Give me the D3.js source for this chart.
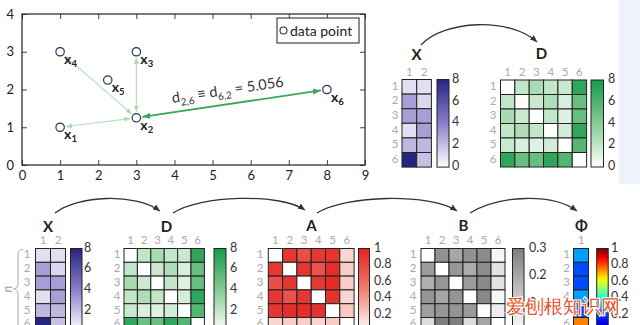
<!DOCTYPE html>
<html><head><meta charset="utf-8">
<script src="https://cdn.jsdelivr.net/npm/d3@7"></script>
<style>
body{margin:0;background:#fff}
svg{display:block}
text{font-family:Lato,"Open Sans",sans-serif}
</style></head><body>
<svg id="c" width="640" height="325"></svg>
<script>
// ---------- data ----------
const pointIds = ["1","2","3","4","5","6"];
const pointX = [1, 3, 3, 1, 2.25, 8];
const pointY = [1, 1.25, 3, 3, 2.25, 2];
const xTicks = [0,1,2,3,4,5,6,7,8,9];
const yTicks = [0,1,2,3,4];
const hubIndex = 1;             // x2
const linkTargets = [0, 2, 3, 5];
const highlightTarget = 5;      // x6
const distanceText = "5.056";
const legendLabel = "data point";

const rowIds = ["1","2","3","4","5","6"];
const colIdsX = ["1","2"];
const colIdsD = ["1","2","3","4","5","6"];
const colIdsPhi = ["1"];

const matD = [
  [0,    2.02, 2.83, 2.00, 1.77, 7.07],
  [2.02, 0,    1.75, 2.66, 1.25, 5.06],
  [2.83, 1.75, 0,    2.00, 1.06, 5.10],
  [2.00, 2.66, 2.00, 0,    1.46, 7.07],
  [1.77, 1.25, 1.06, 1.46, 0,    5.76],
  [7.07, 5.06, 5.10, 7.07, 5.76, 0]
];
const matA = [
  [0,    0.88, 0.76, 0.88, 0.90, 0.16],
  [0.88, 0,    0.90, 0.74, 0.93, 0.20],
  [0.76, 0.90, 0,    0.88, 0.94, 0.19],
  [0.88, 0.74, 0.88, 0,    0.91, 0.16],
  [0.90, 0.93, 0.94, 0.91, 0,    0.21],
  [0.16, 0.20, 0.19, 0.16, 0.21, 0]
];
const matB = [
  [0,     0.254, 0.204, 0.255, 0.268, 0.020],
  [0.230, 0,     0.243, 0.194, 0.264, 0.070],
  [0.185, 0.244, 0,     0.231, 0.271, 0.068],
  [0.248, 0.209, 0.248, 0,     0.275, 0.019],
  [0.225, 0.245, 0.251, 0.237, 0,     0.042],
  [0.081, 0.318, 0.310, 0.081, 0.209, 0]
];
const vecPhi = [0.28, 0.20, 0.20, 0.28, 0.20, 0.75];

const ticksX = [0,2,4,6,8];
const ticksD = [0,2,4,6,8];
const ticksA = [0,0.2,0.4,0.6,0.8,1];
const ticksB = [0,0.1,0.2,0.3];
const ticksPhi = [0,0.2,0.4,0.6,0.8,1];
const watermark = "爱刨根知识网";

// tables built from arrays
const matX = pointX.map((x,i)=>[x, pointY[i]]);
const matPhi = vecPhi.map(v=>[v]);

// ---------- helpers ----------
const W = 640, H = 325;
const svg = d3.select("#c");
const defs = svg.append("defs");
const FONT = 'Lato,"Open Sans",sans-serif';

svg.append("rect").attr("x",619).attr("y",0).attr("width",21).attr("height",184).attr("fill","#eef3fb");

function marker(id, color, len, wid){
  defs.append("marker").attr("id",id)
    .attr("viewBox",`0 0 ${len} ${wid}`).attr("refX",len).attr("refY",wid/2)
    .attr("markerWidth",len).attr("markerHeight",wid)
    .attr("markerUnits","userSpaceOnUse").attr("orient","auto-start-reverse")
    .append("path").attr("d",`M0,0L${len},${wid/2}L0,${wid}Z`).attr("fill",color);
}
marker("mLight","#a9dbb0",6,5);
marker("mDark","#3aa85c",8,6);
marker("mBlack","#333",7,6);

// ---------- scatter ----------
const sx = d3.scaleLinear().domain([0,9]).range([22,365]);
const sy = d3.scaleLinear().domain([0,4]).range([165,14]);
const plot = svg.append("g");
const fmtAxis = d3.format("d");

function axis(gen, tr, labels){
  const g = plot.append("g").attr("transform",tr).call(gen)
    .attr("font-family",FONT).attr("font-size",13);
  g.select(".domain").remove();
  g.selectAll("line").attr("stroke","#444");
  g.selectAll("text").attr("fill","#222");
  if(!labels) g.selectAll("text").remove();
}
axis(d3.axisBottom(sx).tickValues(xTicks).tickFormat(fmtAxis).tickSizeInner(-5).tickSizeOuter(0).tickPadding(6), `translate(0,${sy(0)})`, true);
axis(d3.axisTop(sx).tickValues(xTicks).tickFormat(fmtAxis).tickSizeInner(-5).tickSizeOuter(0), `translate(0,${sy(4)})`, false);
axis(d3.axisLeft(sy).tickValues(yTicks).tickFormat(fmtAxis).tickSizeInner(-5).tickSizeOuter(0).tickPadding(8), `translate(${sx(0)},0)`, true);
axis(d3.axisRight(sy).tickValues(yTicks).tickFormat(fmtAxis).tickSizeInner(-5).tickSizeOuter(0), `translate(${sx(9)},0)`, false);

plot.append("rect").attr("x",sx(0)).attr("y",sy(4))
  .attr("width",sx(9)-sx(0)).attr("height",sy(0)-sy(4))
  .attr("fill","none").attr("stroke","#222").attr("stroke-width",1.2);

// links
const hx = sx(pointX[hubIndex]), hy = sy(pointY[hubIndex]);
linkTargets.forEach(t=>{
  const tx = sx(pointX[t]), ty = sy(pointY[t]);
  const dx = tx-hx, dy = ty-hy, L = Math.hypot(dx,dy);
  const ux = dx/L, uy = dy/L, s = 6;
  const strong = t===highlightTarget;
  plot.append("line")
    .attr("x1",hx+ux*s).attr("y1",hy+uy*s).attr("x2",tx-ux*s).attr("y2",ty-uy*s)
    .attr("stroke", strong ? "#3aa85c" : "#b5e0ba")
    .attr("stroke-width", strong ? 1.8 : 1.2)
    .attr("marker-start", strong ? "url(#mDark)" : "url(#mLight)")
    .attr("marker-end", strong ? "url(#mDark)" : "url(#mLight)");
});

// distance label
{
  const tx = sx(pointX[highlightTarget]), ty = sy(pointY[highlightTarget]);
  const ang = Math.atan2(ty-hy, tx-hx)*180/Math.PI;
  const mx = (hx+tx)/2 - 2, my = (hy+ty)/2;
  const t = plot.append("text").attr("transform",`translate(${mx},${my}) rotate(${ang})`)
    .attr("y",-9).attr("text-anchor","middle").attr("font-size",14.5).attr("fill","#333");
  t.append("tspan").text("d");
  t.append("tspan").attr("font-size",10).attr("dy",4).text("2,6");
  t.append("tspan").attr("dy",-4).text(" \u2261 d");
  t.append("tspan").attr("font-size",10).attr("dy",4).text("6,2");
  t.append("tspan").attr("dy",-4).text(" = " + distanceText);
}

// points
plot.selectAll("circle.pt").data(pointIds).join("circle").attr("class","pt")
  .attr("cx",(d,i)=>sx(pointX[i])).attr("cy",(d,i)=>sy(pointY[i])).attr("r",4.2)
  .attr("fill","#fff").attr("stroke","#2e2e5e").attr("stroke-width",1.2);
pointIds.forEach((id,i)=>{
  const t = plot.append("text").attr("x",sx(pointX[i])+4).attr("y",sy(pointY[i])+12)
    .attr("font-size",14).attr("font-weight","bold").attr("fill","#222");
  t.append("tspan").text("x");
  t.append("tspan").attr("font-size",9.5).attr("dy",3).text(id);
});

// legend
plot.append("rect").attr("x",277).attr("y",18).attr("width",82).attr("height",25)
  .attr("fill","#fff").attr("stroke","#333").attr("stroke-width",1.1);
plot.append("circle").attr("cx",283.5).attr("cy",30.5).attr("r",3.5)
  .attr("fill","#fff").attr("stroke","#2e2e5e").attr("stroke-width",1.1);
plot.append("text").attr("x",290).attr("y",35.5).attr("font-size",14).attr("fill","#222").text(legendLabel);

// ---------- heatmaps ----------
function jet(v){
  const c = x=>Math.max(0,Math.min(1,x));
  const r = c(1.5-Math.abs(4*v-3)), g = c(1.5-Math.abs(4*v-2)), b = c(1.5-Math.abs(4*v-1));
  return d3.rgb(r*255,g*255,b*255).toString();
}
const colX = d3.scaleLinear().domain([0,4,8]).range(["#ffffff","#8a80c8","#27247f"]).clamp(true);
const colD = d3.scaleLinear().domain([0,4,8]).range(["#ffffff","#86cc93","#159a4b"]).clamp(true);
const colA = d3.scaleLinear().domain([0,0.5,1]).range(["#ffffff","#f07f73","#e3211f"]).clamp(true);
const colB = d3.scaleLinear().domain([0,0.3]).range(["#ffffff","#7e7e7e"]).clamp(true);
const colPhi = v=>jet(v);

let gradN = 0;
function heatmap(o){
  const g = svg.append("g");
  const nr = o.mat.length, nc = o.mat[0].length;
  const xs = d3.scaleBand().domain(o.cols).range([o.x0, o.x0+nc*o.cw]);
  const ys = d3.scaleBand().domain(o.rows).range([o.y0, o.y0+nr*o.ch]);
  o.mat.forEach((row,i)=>row.forEach((v,j)=>{
    g.append("rect").attr("x",xs(o.cols[j])).attr("y",ys(o.rows[i]))
      .attr("width",xs.bandwidth()).attr("height",ys.bandwidth())
      .attr("fill",o.color(v)).attr("stroke","#222").attr("stroke-width",1);
  }));
  g.selectAll("text.col").data(o.cols).join("text").attr("class","col")
    .attr("x",d=>xs(d)+xs.bandwidth()/2).attr("y",o.colLabelY)
    .attr("text-anchor","middle").attr("dominant-baseline","middle")
    .attr("font-size",11.5).attr("fill","#aaa").text(d=>d);
  g.selectAll("text.row").data(o.rows).join("text").attr("class","row")
    .attr("x",o.rowLabelX).attr("y",d=>ys(d)+ys.bandwidth()/2)
    .attr("text-anchor","middle").attr("dominant-baseline","middle")
    .attr("font-size",11.5).attr("fill","#aaa").text(d=>d);
  // colorbar
  const id = "grad"+(gradN++);
  const lg = defs.append("linearGradient").attr("id",id).attr("x1",0).attr("x2",0).attr("y1",1).attr("y2",0);
  const [lo,hi] = o.cbDomain;
  d3.range(0,1.0001,0.05).forEach(f=>lg.append("stop").attr("offset",f).attr("stop-color",o.color(lo+f*(hi-lo))));
  const top = o.y0, h = nr*o.ch;
  g.append("rect").attr("x",o.cbX).attr("y",top).attr("width",o.cbW).attr("height",h)
    .attr("fill",`url(#${id})`).attr("stroke","#222").attr("stroke-width",1);
  const cs = d3.scaleLinear().domain(o.cbDomain).range([top+h, top]);
  // only labels that fall inside the visible window (the reference is cropped at the bottom)
  g.selectAll("text.cb").data(o.ticks.filter(d=>cs(d) < H-6)).join("text").attr("class","cb")
    .attr("x",o.cbLabelX).attr("y",d=>cs(d)).attr("dominant-baseline","middle")
    .attr("font-size",12.5).attr("fill","#333").text(d=>o.fmt(d));
  // title
  g.append("text").attr("x",o.titleX).attr("y",o.titleY).attr("text-anchor","middle")
    .attr("font-size",15).attr("font-weight","bold").attr("fill","#222").text(o.title);
}
const fmtInt = d=>d3.format("d")(d);
const fmtDec = d=>d===1?"1":d3.format(".1f")(d);

// top panel
heatmap({mat:matX, rows:rowIds, cols:colIdsX, x0:402, y0:79.5, cw:14.7, ch:14.6, color:colX,
  rowLabelX:395, colLabelY:73, cbX:437, cbW:12, cbDomain:[0,8], ticks:ticksX, fmt:fmtInt, cbLabelX:452,
  title:"X", titleX:416.5, titleY:60});
heatmap({mat:matD, rows:rowIds, cols:colIdsD, x0:500.5, y0:80, cw:14.35, ch:14.5, color:colD,
  rowLabelX:493, colLabelY:73, cbX:591, cbW:12.5, cbDomain:[0,8], ticks:ticksD, fmt:fmtInt, cbLabelX:608,
  title:"D", titleX:541.5, titleY:59});

// bottom panel
const BY = 248.5, BH = 13.8;
heatmap({mat:matX, rows:rowIds, cols:colIdsX, x0:35.5, y0:BY, cw:15, ch:BH, color:colX,
  rowLabelX:27, colLabelY:241, cbX:70.5, cbW:11.5, cbDomain:[0,8], ticks:ticksX, fmt:fmtInt, cbLabelX:84,
  title:"X", titleX:48, titleY:232});
heatmap({mat:matD, rows:rowIds, cols:colIdsD, x0:124, y0:BY, cw:13.4, ch:BH, color:colD,
  rowLabelX:117, colLabelY:241, cbX:214, cbW:12, cbDomain:[0,8], ticks:ticksD, fmt:fmtInt, cbLabelX:230,
  title:"D", titleX:166.5, titleY:232});
heatmap({mat:matA, rows:rowIds, cols:colIdsD, x0:268.3, y0:BY, cw:14.3, ch:BH, color:colA,
  rowLabelX:260, colLabelY:241, cbX:358.5, cbW:11, cbDomain:[0,1], ticks:ticksA, fmt:fmtDec, cbLabelX:374,
  title:"A", titleX:311.5, titleY:231});
heatmap({mat:matB, rows:rowIds, cols:colIdsD, x0:421, y0:BY, cw:14, ch:BH, color:colB,
  rowLabelX:413, colLabelY:241, cbX:512.5, cbW:11.5, cbDomain:[0,0.3], ticks:ticksB, fmt:fmtDec, cbLabelX:529,
  title:"B", titleX:463.5, titleY:231});
heatmap({mat:matPhi, rows:rowIds, cols:colIdsPhi, x0:573.5, y0:BY, cw:15, ch:BH, color:colPhi,
  rowLabelX:566.5, colLabelY:241, cbX:596.7, cbW:11.5, cbDomain:[0,1], ticks:ticksPhi, fmt:fmtDec, cbLabelX:611,
  title:"\u03A6", titleX:581.5, titleY:231});

// curved arrows
const arcs = [
  "M421,45 C444,20 510,17 537,42",
  "M55,213 C78,195 135,193 160,211",
  "M173,213 C200,195 280,193 305,210",
  "M317,213 C345,195 430,193 457,211",
  "M470,213 C500,195 552,193 577,211"
];
svg.selectAll("path.arc").data(arcs).join("path").attr("class","arc").attr("d",d=>d)
  .attr("fill","none").attr("stroke","#333").attr("stroke-width",1.3).attr("marker-end","url(#mBlack)");

// n brace
svg.append("path").attr("d","M23,249.5 Q18,249.5 18,255 L18,283 Q18,289 13.5,289 Q18,289 18,295 L18,326")
  .attr("fill","none").attr("stroke","#aaa").attr("stroke-width",1);
svg.append("text").attr("transform","translate(9,289) rotate(-90)").attr("text-anchor","middle")
  .attr("dominant-baseline","middle").attr("font-size",13).attr("font-style","italic").attr("fill","#999").text("n");

// watermark (present in the reference image)
svg.append("text").attr("x",506).attr("y",313).attr("font-size",19)
  .attr("font-family",'"Noto Sans CJK SC",sans-serif').attr("fill","#e4572e")
  .attr("stroke","#fff").attr("stroke-width",2).attr("paint-order","stroke").text(watermark);
</script>
</body></html>
